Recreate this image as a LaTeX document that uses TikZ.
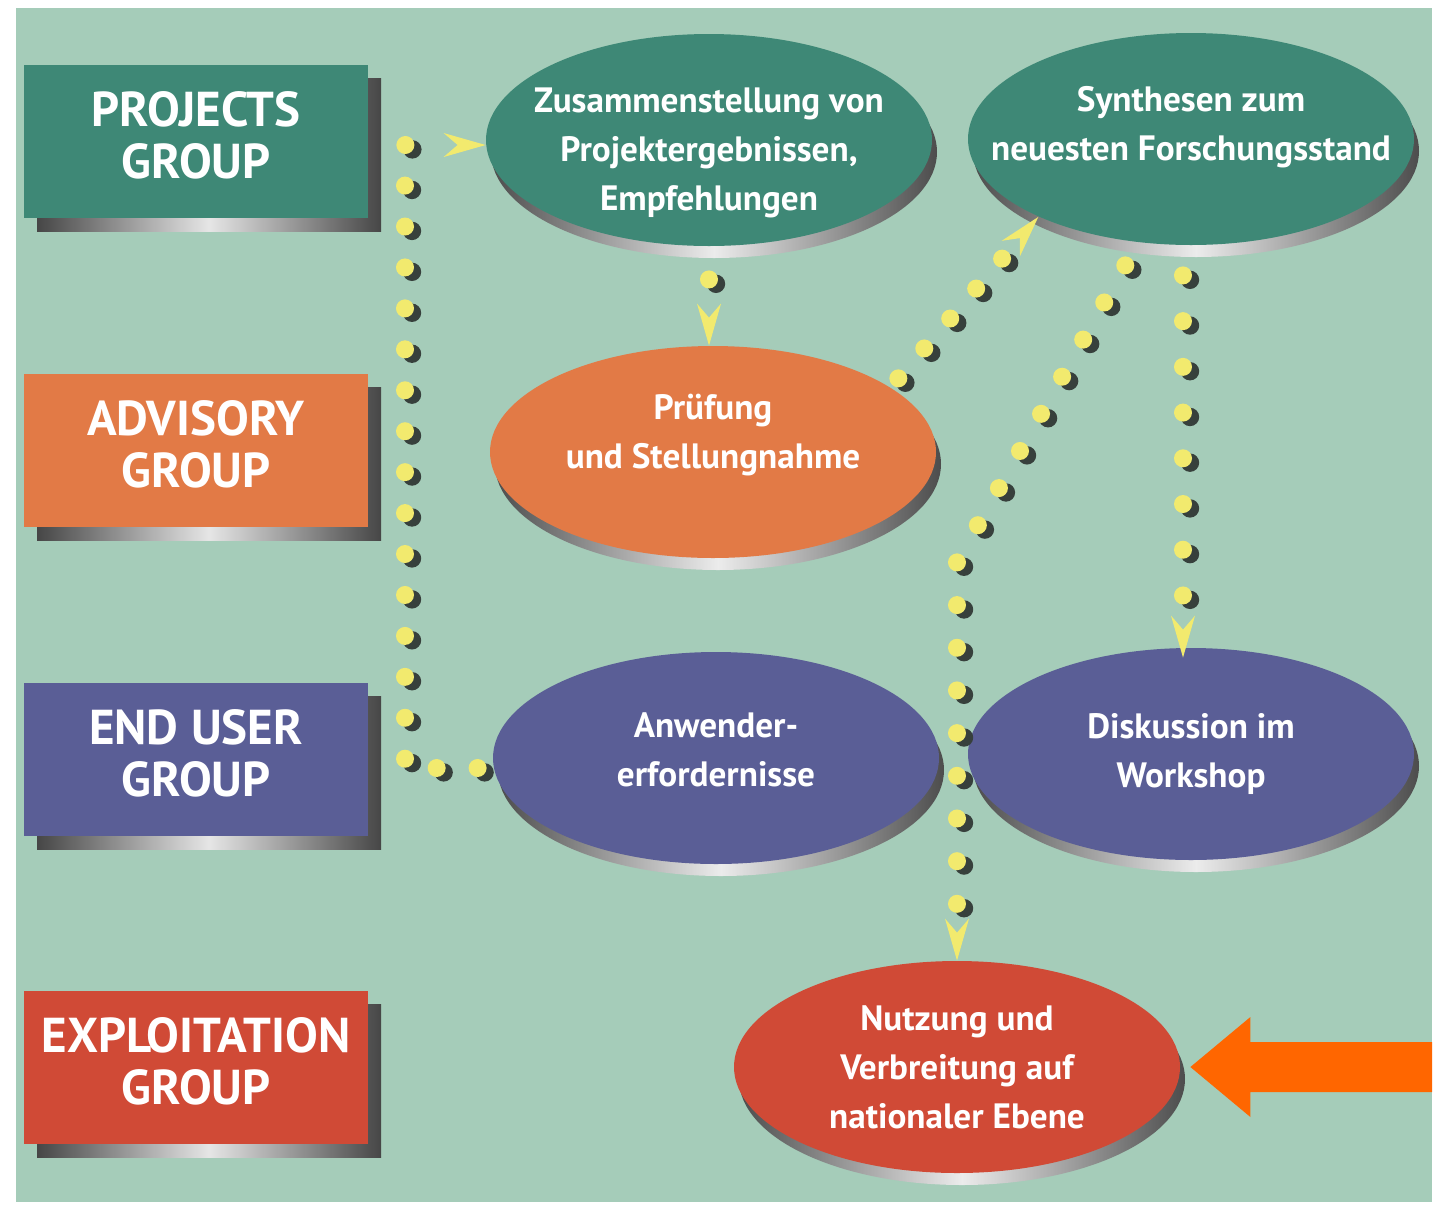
\documentclass[tikz,border=0pt]{standalone}
\usepackage{fontspec}
\setmainfont{PT Sans}
\usetikzlibrary{shapes.geometric,decorations.markings,calc,shadows}
\definecolor{bg}{RGB}{165,204,185}
\definecolor{tealc}{RGB}{62,136,118}
\definecolor{orngc}{RGB}{226,122,70}
\definecolor{bluc}{RGB}{90,94,150}
\definecolor{redc}{RGB}{208,74,54}
\definecolor{dotY}{RGB}{242,234,110}
\definecolor{dotS}{RGB}{55,64,60}
\definecolor{bigO}{RGB}{255,102,0}
\newcommand{\dotmark}{\pgftransformresetnontranslations
  \fill[dotS] (3.5pt,-2.2pt) circle (4.6pt);
  \fill[dotY] (0pt,0pt) circle (4.5pt);}
\newcommand{\dartmark}{\fill[dotY] (0pt,0pt) -- (-21pt,6pt) -- (-14pt,0pt) -- (-21pt,-6pt) -- cycle;}
\tikzset{
  dotpath/.style n args={3}{postaction={decorate,decoration={markings,
      mark=between positions #1 and #2 step #3 with {\dotmark},
      mark=at position 1 with {\dartmark}}}},
  grp/.style={rectangle, fill=#1, minimum width=172pt, minimum height=76.5pt,
    inner sep=0pt, text=white, align=center, text depth=6pt,
    font=\fontsize{24.5}{26}\selectfont\bfseries,
    general shadow={shadow xshift=6.5pt, shadow yshift=-7pt,
      left color=gray!55!black, right color=gray!55!black, middle color=gray!20}},
  ell/.style={ellipse, fill=#1, minimum width=223pt, minimum height=106pt,
    inner xsep=-30pt, inner ysep=-20pt, text=white, align=center,
    font=\fontsize{17.6}{24.5}\selectfont\bfseries,
    general shadow={shadow xshift=2.5pt, shadow yshift=-6pt,
      left color=gray!60!black, right color=gray!60!black, middle color=gray!15}},
}
\begin{document}
\begin{tikzpicture}[x=0.5pt,y=-0.5pt]
\path[use as bounding box] (0,0) rectangle (1436,1206);
\fill[white] (0,0) rectangle (1436,1206);
\fill[bg] (16,8) rectangle (1432,1202);

% groups
\node[grp=tealc] (pg) at (196,141) {PROJECTS\\GROUP};
\node[grp=orngc] (ag) at (196,450) {ADVISORY\\GROUP};
\node[grp=bluc]  (eg) at (196,759) {END USER\\GROUP};
\node[grp=redc]  (xg) at (196,1067) {EXPLOITATION\\GROUP};

% ellipses
\node[ell=tealc, text height=74pt] (e1) at (709,140) {Zusammenstellung von\\Projektergebnissen,\\Empfehlungen};
\node[ell=tealc, text depth=15.7pt] (e2) at (1191,139) {Synthesen zum\\neuesten Forschungsstand};
\node[ell=orngc, text depth=20.7pt] (e3) at (713,452) {Prüfung\\und Stellungnahme};
\node[ell=bluc, text depth=8pt]  (e4) at (716,758) {Anwender-\\erfordernisse};
\node[ell=bluc]  (e5) at (1191,754) {Diskussion im\\Workshop};
\node[ell=redc]  (e6) at (957,1067) {Nutzung und\\Verbreitung auf\\nationaler Ebene};

% dotted connectors
\coordinate (k1) at (405,768);
\coordinate (k2) at (405,145);
\path[dotpath={7.5pt}{356pt}{20.47pt}] ($(e4.west)+(0,10)$) -- (k1) -- (k2) -- (e1.west |- k2);
\path[dotpath={16.5pt}{17pt}{20pt}] (e1.south) -- (e1.south |- e3.north);
\path[dotpath={6pt}{86pt}{19.8pt}] (e3.20) -- (e2.207);
\coordinate (k3) at (957,562);
\path[dotpath={13.2pt}{355pt}{21.34pt}] (e2.243) -- (k3) -- (e6.north);
\path[dotpath={15pt}{176pt}{22.86pt}] ([xshift=-4pt]e2.south) -- ([xshift=-4pt,yshift=-5pt]e5.north);

% big orange arrow
\coordinate (ot) at ([xshift=5pt]e6.east);
\coordinate (oe) at (1432,1067);
\fill[bigO] (ot) -- ($(ot)+(60,-50)$) -- ($(ot)+(60,-25)$) -- ($(oe)+(0,-25)$)
  -- ($(oe)+(0,25)$) -- ($(ot)+(60,25)$) -- ($(ot)+(60,50)$) -- cycle;
\end{tikzpicture}
\end{document}
